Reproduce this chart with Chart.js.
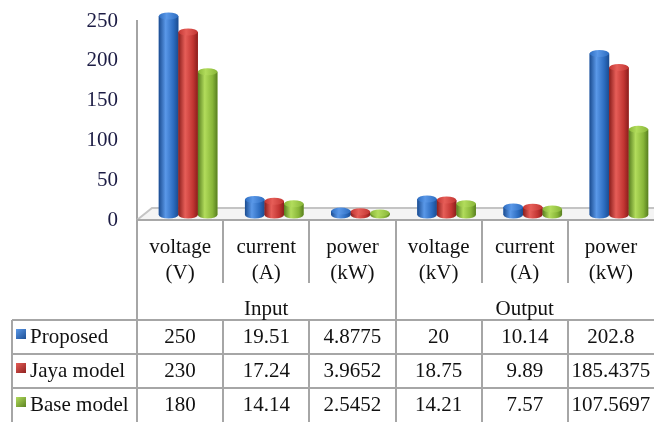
<!DOCTYPE html>
<html>
<head>
<meta charset="utf-8">
<script src="https://cdn.jsdelivr.net/npm/chart.js@4.4.1/dist/chart.umd.min.js"></script>
<style>
  html, body { margin: 0; padding: 0; background: #fff; overflow: hidden; }
</style>
</head>
<body>
<canvas id="powerChart" width="654" height="422"></canvas>
<script>
// data
var quantities = ["voltage", "current", "power", "voltage", "current", "power"];
var units = ["(V)", "(A)", "(kW)", "(kV)", "(A)", "(kW)"];
var groups = ["Input", "Output"];
var seriesNames = ["Proposed", "Jaya model", "Base model"];
var proposed = [250, 19.51, 4.8775, 20, 10.14, 202.8];
var jaya = [230, 17.24, 3.9652, 18.75, 9.89, 185.4375];
var base = [180, 14.14, 2.5452, 14.21, 7.57, 107.5697];
var tableText = [
    ["250", "19.51", "4.8775", "20", "10.14", "202.8"],
    ["230", "17.24", "3.9652", "18.75", "9.89", "185.4375"],
    ["180", "14.14", "2.5452", "14.21", "7.57", "107.5697"]
];
var yTicks = [0, 50, 100, 150, 200, 250];

// dark, mid, light per series
var shades = [
    ['#1b4c90', '#2c6cc0', '#5a98e8'],
    ['#8a1e1c', '#c23532', '#e65e58'],
    ['#587f20', '#88b638', '#b2dc5c']
];
var serif = "'Liberation Serif', 'Times New Roman', serif";

var cylinders = {
    id: 'cylinders',
    beforeDatasetsDraw: function (chart) {
        var ctx = chart.ctx, a = chart.chartArea;
        // 3d floor
        ctx.save();
        ctx.beginPath();
        ctx.moveTo(a.left, a.bottom);
        ctx.lineTo(a.left + 15, a.bottom - 12);
        ctx.lineTo(a.right, a.bottom - 12);
        ctx.lineTo(a.right, a.bottom);
        ctx.closePath();
        ctx.fillStyle = '#f4f4f4';
        ctx.fill();
        ctx.strokeStyle = '#c4c4c4';
        ctx.lineWidth = 2;
        ctx.beginPath();
        ctx.moveTo(a.left, a.bottom);
        ctx.lineTo(a.left + 15, a.bottom - 12);
        ctx.lineTo(a.right, a.bottom - 12);
        ctx.stroke();
        ctx.strokeStyle = '#a8a8a8';
        ctx.beginPath();
        ctx.moveTo(a.left, a.bottom);
        ctx.lineTo(a.right, a.bottom);
        ctx.stroke();
        ctx.restore();
        // bars stand a little back on the floor
        ctx.save();
        ctx.translate(8, -5);
    },
    afterDatasetsDraw: function (chart) {
        var ctx = chart.ctx;
        chart.data.datasets.forEach(function (ds, di) {
            var sh = shades[di];
            chart.getDatasetMeta(di).data.forEach(function (bar) {
                var p = bar.getProps(['x', 'y', 'base', 'width'], true);
                var l = p.x - p.width / 2, r = p.x + p.width / 2;
                var rx = p.width / 2, ry = 3.5;
                var g = ctx.createLinearGradient(l, 0, r, 0);
                g.addColorStop(0, sh[0]);
                g.addColorStop(0.35, sh[2]);
                g.addColorStop(0.75, sh[1]);
                g.addColorStop(1, sh[0]);
                ctx.fillStyle = g;
                ctx.beginPath();
                ctx.moveTo(l, p.y);
                ctx.lineTo(l, p.base);
                ctx.ellipse(p.x, p.base, rx, ry, 0, Math.PI, 0, true);
                ctx.lineTo(r, p.y);
                ctx.closePath();
                ctx.fill();
                var gt = ctx.createLinearGradient(l, 0, r, 0);
                gt.addColorStop(0, sh[1]);
                gt.addColorStop(0.4, sh[2]);
                gt.addColorStop(1, sh[1]);
                ctx.fillStyle = gt;
                ctx.beginPath();
                ctx.ellipse(p.x, p.y, rx, ry, 0, 0, Math.PI * 2);
                ctx.fill();
            });
        });
        ctx.restore();
    }
};

var dataTable = {
    id: 'dataTable',
    afterDraw: function (chart) {
        var ctx = chart.ctx, xs = chart.scales.x, a = chart.chartArea;
        var n = quantities.length, cw = xs.width / n;
        var top = a.bottom;
        var rowTop = top + 100, rowH = 34, legendLeft = 12;
        ctx.save();
        ctx.strokeStyle = '#a6a6a6';
        ctx.lineWidth = 2;
        ctx.beginPath();
        for (var i = 0; i < n; i++) {
            var ex = Math.round(xs.left + i * cw);
            if (i % 3 == 0) {
                ctx.moveTo(ex, top);
                ctx.lineTo(ex, 422);
            } else {
                ctx.moveTo(ex, top);
                ctx.lineTo(ex, top + 63);
                ctx.moveTo(ex, rowTop);
                ctx.lineTo(ex, 422);
            }
        }
        for (var r = 0; r < 3; r++) {
            ctx.moveTo(legendLeft, rowTop + r * rowH);
            ctx.lineTo(xs.right, rowTop + r * rowH);
        }
        ctx.moveTo(legendLeft, rowTop);
        ctx.lineTo(legendLeft, 422);
        ctx.stroke();

        ctx.fillStyle = '#111';
        ctx.font = '21px ' + serif;
        ctx.textBaseline = 'middle';
        ctx.textAlign = 'center';
        for (var i = 0; i < n; i++) {
            var cx = xs.getPixelForValue(i);
            ctx.fillText(quantities[i], cx, top + 27);
            ctx.fillText(units[i], cx, top + 53);
            for (var r = 0; r < 3; r++) {
                ctx.fillText(tableText[r][i], cx, rowTop + r * rowH + 17);
            }
        }
        groups.forEach(function (gName, gi) {
            ctx.fillText(gName, xs.left + (gi * 3 + 1.5) * cw, top + 89);
        });
        ctx.textAlign = 'left';
        seriesNames.forEach(function (name, r) {
            var cy = rowTop + r * rowH;
            var sh = shades[r];
            var g = ctx.createLinearGradient(16, cy + 9, 26, cy + 20);
            g.addColorStop(0, sh[2]);
            g.addColorStop(1, sh[0]);
            ctx.fillStyle = g;
            ctx.fillRect(16, cy + 9, 10, 10);
            ctx.fillStyle = '#111';
            ctx.fillText(name, 30, cy + 17);
        });
        ctx.restore();
    }
};

var chartData = {
    labels: quantities,
    datasets: [
        { label: seriesNames[0], data: proposed, backgroundColor: shades[0][1] },
        { label: seriesNames[1], data: jaya, backgroundColor: shades[1][1] },
        { label: seriesNames[2], data: base, backgroundColor: shades[2][1] }
    ]
};

new Chart(document.getElementById('powerChart'), {
    type: 'bar',
    data: chartData,
    options: {
        responsive: false,
        animation: false,
        layout: { padding: { left: 0, right: 0, top: 21, bottom: 202 } },
        datasets: { bar: { categoryPercentage: 0.68, barPercentage: 1, clip: false } },
        plugins: { legend: { display: false }, tooltip: { enabled: false } },
        scales: {
            x: { display: false },
            y: {
                min: 0,
                max: 250,
                afterBuildTicks: function (s) {
                    s.ticks = yTicks.map(function (v) { return { value: v }; });
                },
                afterFit: function (s) {
                    s.width = 137;
                    s.paddingTop = 0;
                    s.paddingBottom = 0;
                },
                grid: { display: false, drawTicks: false },
                border: { display: true, color: '#a4a4a4', width: 2 },
                ticks: { color: '#1c1c44', padding: 19, font: { family: serif, size: 21 } }
            }
        }
    },
    plugins: [cylinders, dataTable]
});
</script>
</body>
</html>
